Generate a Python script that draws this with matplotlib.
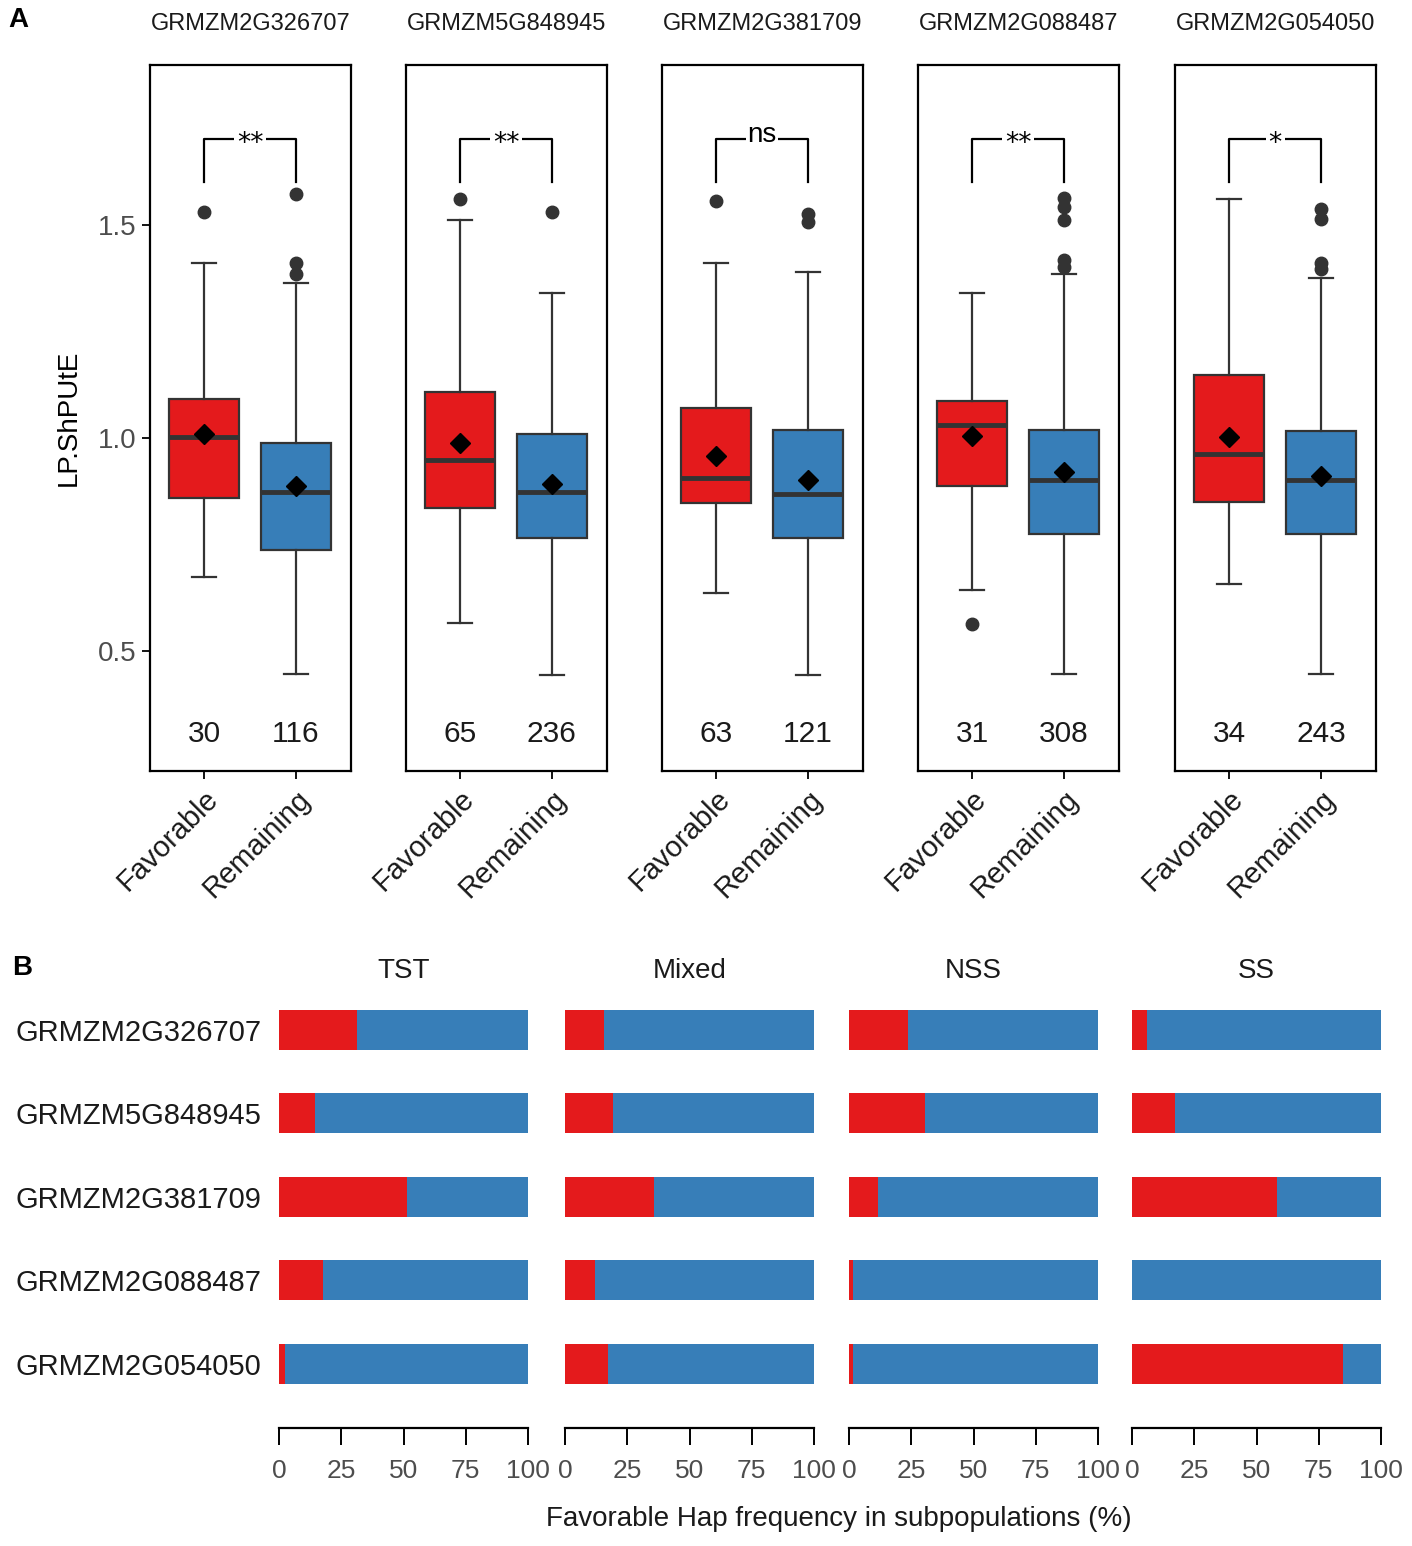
import matplotlib
matplotlib.use("Agg")
import matplotlib.pyplot as plt

plt.rcParams['font.family'] = ['Liberation Sans', 'DejaVu Sans']

# Panel A data
genes = ["GRMZM2G326707", "GRMZM5G848945", "GRMZM2G381709", "GRMZM2G088487", "GRMZM2G054050"]
groups = ["Favorable", "Remaining"]
fav_q1 = [0.859, 0.836, 0.847, 0.888, 0.850]
fav_med = [1.003, 0.949, 0.907, 1.030, 0.963]
fav_q3 = [1.092, 1.109, 1.071, 1.087, 1.147]
fav_lo = [0.675, 0.567, 0.636, 0.645, 0.658]
fav_hi = [1.411, 1.512, 1.409, 1.341, 1.559]
fav_mean = [1.009, 0.989, 0.957, 1.006, 1.003]
fav_out = [[1.529], [1.559], [1.555], [0.564], []]
rem_q1 = [0.737, 0.766, 0.766, 0.776, 0.776]
rem_med = [0.874, 0.874, 0.868, 0.901, 0.901]
rem_q3 = [0.989, 1.009, 1.019, 1.019, 1.017]
rem_lo = [0.447, 0.445, 0.445, 0.447, 0.447]
rem_hi = [1.363, 1.341, 1.390, 1.384, 1.376]
rem_mean = [0.888, 0.893, 0.901, 0.920, 0.911]
rem_out = [[1.572, 1.411, 1.384], [1.529], [1.525, 1.506],
           [1.563, 1.541, 1.512, 1.417, 1.401], [1.536, 1.514, 1.411, 1.395]]
fav_n = [30, 65, 63, 31, 34]
rem_n = [116, 236, 121, 308, 243]
signif = ["**", "**", "ns", "**", "*"]

# Panel B data (% favorable haplotype)
subpops = ["TST", "Mixed", "NSS", "SS"]
tst = [31.2, 14.2, 51.4, 17.5, 2.3]
mixed = [15.4, 19.3, 35.7, 12.0, 17.1]
nss = [23.8, 30.5, 11.4, 1.7, 1.7]
ss = [6.1, 17.3, 58.4, 0.0, 84.9]

red = "#E41A1C"
blue = "#377EB8"
grey = "#4D4D4D"
W, H = 1412, 1546

fig = plt.figure(figsize=(14.12, 15.46), dpi=100)

# ---------- A ----------
lefts = [150, 406, 662, 918, 1175]
for i, g in enumerate(genes):
    ax = fig.add_axes([lefts[i] / W, 1 - 771 / H, 201 / W, 706 / H])
    stats = [
        dict(q1=fav_q1[i], med=fav_med[i], q3=fav_q3[i], whislo=fav_lo[i], whishi=fav_hi[i],
             mean=fav_mean[i], fliers=fav_out[i]),
        dict(q1=rem_q1[i], med=rem_med[i], q3=rem_q3[i], whislo=rem_lo[i], whishi=rem_hi[i],
             mean=rem_mean[i], fliers=rem_out[i]),
    ]
    bp = ax.bxp(stats, positions=[1, 2], widths=0.76, patch_artist=True, showmeans=True,
                capwidths=0.26,
                boxprops=dict(edgecolor="#333333", linewidth=1.6),
                medianprops=dict(color="#333333", linewidth=3.5),
                whiskerprops=dict(color="#333333", linewidth=1.6),
                capprops=dict(color="#333333", linewidth=1.6),
                flierprops=dict(marker="o", markerfacecolor="#333333", markeredgecolor="#333333",
                                markersize=9),
                meanprops=dict(marker="D", markerfacecolor="black", markeredgecolor="black",
                               markersize=10))
    for patch, c in zip(bp["boxes"], [red, blue]):
        patch.set_facecolor(c)
    ax.set_xlim(0.41, 2.6)
    ax.set_ylim(0.22, 1.874)
    for s in ax.spines.values():
        s.set_linewidth(1.6)
    ax.set_xticks([1, 2])
    ax.set_xticklabels(groups, rotation=45, ha="right", rotation_mode="anchor",
                       fontsize=21, color="#1a1a1a")
    ax.tick_params(axis="x", length=6, width=1.3, pad=4)
    if i == 0:
        ax.set_yticks([0.5, 1.0, 1.5])
        ax.set_yticklabels(["0.5", "1.0", "1.5"], fontsize=20, color=grey)
        ax.tick_params(axis="y", length=6, width=1.3)
        ax.set_ylabel("LP.ShPUtE", fontsize=20, labelpad=12)
    else:
        ax.set_yticks([])
    ax.set_title(g, fontsize=17, color="#1a1a1a", pad=25)
    # significance bracket
    ax.plot([1, 1, 2, 2], [1.60, 1.70, 1.70, 1.60], color="black", linewidth=1.6)
    if signif[i] == "ns":
        ax.text(1.5, 1.71, signif[i], ha="center", va="center", fontsize=20,
                bbox=dict(facecolor="white", edgecolor="none", pad=1.0))
    else:
        ax.text(1.5, 1.69, signif[i], ha="center", va="center", fontsize=19,
                family="DejaVu Sans",
                bbox=dict(facecolor="white", edgecolor="none", pad=2.0))
    ax.text(1, 0.307, str(fav_n[i]), ha="center", va="center", fontsize=21.5, color="#1a1a1a")
    ax.text(2, 0.307, str(rem_n[i]), ha="center", va="center", fontsize=21.5, color="#1a1a1a")

fig.text(8 / W, 1 - 20 / H, "A", fontsize=20, fontweight="bold", va="center")

# ---------- B ----------
blefts = [278, 564, 848, 1131]
vals = [tst, mixed, nss, ss]
rows = list(range(len(genes)))
for j, sp in enumerate(subpops):
    ax = fig.add_axes([blefts[j] / W, 1 - 1428 / H, 251 / W, 433 / H])
    fav = vals[j]
    rest = [100 - v for v in fav]
    ax.barh(rows, fav, height=0.48, color=red)
    ax.barh(rows, rest, left=fav, height=0.48, color=blue)
    ax.set_xlim(-0.5, 100.5)
    ax.set_ylim(4.77, -0.42)
    for s in ["top", "right", "left"]:
        ax.spines[s].set_visible(False)
    ax.spines["bottom"].set_bounds(0, 100)
    ax.spines["bottom"].set_linewidth(1.6)
    ax.set_xticks([0, 25, 50, 75, 100])
    ax.tick_params(axis="x", length=12, width=1.4, labelsize=19, labelcolor=grey, pad=10)
    if j == 0:
        ax.set_yticks(rows)
        ax.set_yticklabels(genes, fontsize=21, color="#1a1a1a")
        ax.tick_params(axis="y", length=0, pad=12)
    else:
        ax.set_yticks([])
    ax.set_title(sp, fontsize=20, color="#1a1a1a", pad=12)

fig.text(839 / W, 1 - 1519 / H, "Favorable Hap frequency in subpopulations (%)",
         ha="center", va="center", fontsize=20, color="#1a1a1a")
fig.text(12 / W, 1 - 968 / H, "B", fontsize=20, fontweight="bold", va="center")

plt.savefig("out.png", dpi=100)
